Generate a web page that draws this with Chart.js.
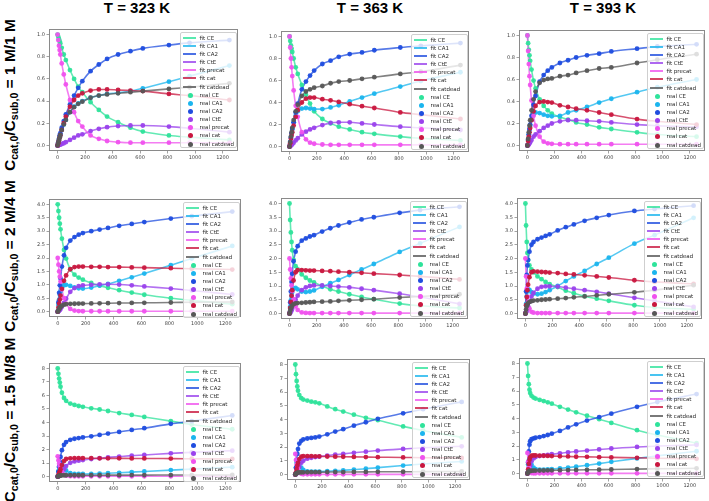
<!DOCTYPE html>
<html>
<head>
<meta charset="utf-8">
<script src="https://cdn.jsdelivr.net/npm/chart.js@4.4.0/dist/chart.umd.min.js"></script>
<style>
  html, body { margin: 0; padding: 0; background: #fff; }
  body { position: relative; width: 709px; height: 501px; overflow: hidden; font-family: "Liberation Sans", Arial, sans-serif; }
  .coltitle { position: absolute; top: 0; font-weight: bold; font-size: 15px; line-height: 16px; transform: translateX(-50%); white-space: nowrap; color: #000; }
  .rowlabel { position: absolute; font-weight: bold; font-size: 15.5px; line-height: 16px; white-space: nowrap; color: #000; transform: translate(-50%, -50%) rotate(-90deg); }
  .rowlabel sub { font-size: 0.68em; line-height: 0; vertical-align: -0.3em; }
  canvas { position: absolute; }
  .legend { position: absolute; box-sizing: border-box; background: rgba(255,255,255,0.8); border: 1px solid #cfcfcf; border-radius: 2px; font-family: "DejaVu Sans", sans-serif; font-size: 5.5px; color: #2a2a2a; }
  .lrow { position: absolute; left: 0; height: 8px; width: 100%; }
  .lline { position: absolute; left: 2px; width: 13px; height: 2px; top: 3px; }
  .ldot { position: absolute; left: 6.5px; width: 5px; height: 5px; border-radius: 50%; top: 1.5px; }
  .ltext { position: absolute; left: 18.5px; top: 0; line-height: 8px; white-space: nowrap; }
</style>
</head>
<body>
<script>
// ---------------- data ----------------
const times = [0, 5, 10, 15, 20, 30, 45, 60, 90, 120, 150, 180, 240, 300, 360, 440, 530, 620, 810, 960, 1250];
const temperatureTitles = ['T = 323 K', 'T = 363 K', 'T = 393 K'];
const ratioTexts = ['1 M/1 M', '2 M/4 M', '1.5 M/8 M'];
const speciesNames = ['CE', 'CA1', 'CA2', 'CtE', 'precat', 'cat', 'catdead'];
const xTicks = [0, 200, 400, 600, 800, 1000, 1200];
const yTicksRow1 = [0, 0.2, 0.4, 0.6, 0.8, 1.0];
const yTicksRow2 = [0, 0.5, 1.0, 1.5, 2.0, 2.5, 3.0, 3.5, 4.0];
const yTicksRow3 = [0, 1, 2, 3, 4, 5, 6, 7, 8];

// Row 1: Ccat,0/Csub,0 = 1 M/1 M
const r1_T323_CE      = [1.0, 0.98, 0.96, 0.94, 0.92, 0.88, 0.82, 0.77, 0.68, 0.60, 0.53, 0.48, 0.39, 0.32, 0.26, 0.21, 0.16, 0.125, 0.09, 0.075, 0.05];
const r1_T323_CA1     = [0, 0.025, 0.05, 0.075, 0.095, 0.14, 0.19, 0.23, 0.30, 0.35, 0.38, 0.40, 0.43, 0.45, 0.465, 0.475, 0.49, 0.515, 0.575, 0.625, 0.72];
const r1_T323_CA2     = [0, 0.03, 0.06, 0.09, 0.11, 0.16, 0.22, 0.28, 0.37, 0.45, 0.52, 0.58, 0.67, 0.73, 0.78, 0.82, 0.85, 0.875, 0.905, 0.925, 0.95];
const r1_T323_CtE     = [0, 0.002, 0.004, 0.006, 0.008, 0.013, 0.02, 0.03, 0.05, 0.07, 0.09, 0.10, 0.13, 0.15, 0.165, 0.175, 0.18, 0.18, 0.17, 0.155, 0.12];
const r1_T323_precat  = [1.0, 0.95, 0.90, 0.86, 0.82, 0.74, 0.64, 0.55, 0.41, 0.30, 0.22, 0.17, 0.09, 0.06, 0.04, 0.03, 0.025, 0.025, 0.025, 0.025, 0.025];
const r1_T323_cat     = [0, 0.02, 0.045, 0.07, 0.09, 0.14, 0.20, 0.26, 0.35, 0.41, 0.45, 0.47, 0.495, 0.505, 0.505, 0.50, 0.495, 0.49, 0.465, 0.45, 0.41];
const r1_T323_catdead = [0, 0.025, 0.05, 0.075, 0.095, 0.14, 0.19, 0.23, 0.30, 0.345, 0.375, 0.395, 0.43, 0.45, 0.46, 0.47, 0.48, 0.49, 0.51, 0.525, 0.56];

const r1_T363_CE      = [1.0, 0.96, 0.92, 0.89, 0.86, 0.80, 0.72, 0.66, 0.56, 0.47, 0.39, 0.32, 0.25, 0.21, 0.18, 0.155, 0.13, 0.115, 0.09, 0.075, 0.055];
const r1_T363_CA1     = [0, 0.04, 0.08, 0.12, 0.16, 0.22, 0.28, 0.32, 0.345, 0.35, 0.345, 0.34, 0.34, 0.355, 0.375, 0.41, 0.445, 0.48, 0.545, 0.595, 0.675];
const r1_T363_CA2     = [0, 0.04, 0.08, 0.12, 0.16, 0.22, 0.31, 0.39, 0.52, 0.59, 0.645, 0.69, 0.75, 0.78, 0.815, 0.84, 0.855, 0.875, 0.90, 0.915, 0.94];
const r1_T363_CtE     = [0, 0.003, 0.008, 0.015, 0.02, 0.035, 0.055, 0.075, 0.11, 0.135, 0.155, 0.17, 0.195, 0.215, 0.22, 0.22, 0.21, 0.20, 0.18, 0.17, 0.15];
const r1_T363_precat  = [1.0, 0.90, 0.80, 0.72, 0.64, 0.51, 0.37, 0.27, 0.13, 0.065, 0.035, 0.025, 0.018, 0.015, 0.015, 0.015, 0.015, 0.015, 0.015, 0.015, 0.015];
const r1_T363_cat     = [0, 0.03, 0.07, 0.10, 0.13, 0.19, 0.27, 0.33, 0.40, 0.435, 0.445, 0.445, 0.43, 0.42, 0.405, 0.385, 0.367, 0.35, 0.31, 0.29, 0.25];
const r1_T363_catdead = [0, 0.04, 0.09, 0.13, 0.17, 0.24, 0.32, 0.38, 0.46, 0.50, 0.52, 0.535, 0.55, 0.575, 0.59, 0.60, 0.615, 0.63, 0.66, 0.68, 0.74];

const r1_T393_CE      = [1.0, 0.93, 0.87, 0.82, 0.77, 0.69, 0.59, 0.52, 0.42, 0.36, 0.32, 0.29, 0.26, 0.235, 0.21, 0.19, 0.165, 0.15, 0.12, 0.10, 0.08];
const r1_T393_CA1     = [0, 0.05, 0.10, 0.14, 0.18, 0.23, 0.28, 0.30, 0.295, 0.28, 0.27, 0.265, 0.27, 0.30, 0.32, 0.35, 0.39, 0.425, 0.485, 0.53, 0.60];
const r1_T393_CA2     = [0, 0.05, 0.10, 0.15, 0.19, 0.27, 0.37, 0.45, 0.58, 0.64, 0.68, 0.71, 0.75, 0.775, 0.80, 0.82, 0.835, 0.855, 0.88, 0.90, 0.92];
const r1_T393_CtE     = [0, 0.003, 0.01, 0.02, 0.03, 0.05, 0.08, 0.10, 0.13, 0.16, 0.18, 0.20, 0.22, 0.23, 0.23, 0.225, 0.22, 0.21, 0.19, 0.18, 0.17];
const r1_T393_precat  = [1.0, 0.86, 0.74, 0.63, 0.55, 0.41, 0.27, 0.18, 0.08, 0.035, 0.02, 0.015, 0.012, 0.012, 0.012, 0.012, 0.012, 0.012, 0.012, 0.012, 0.012];
const r1_T393_cat     = [0, 0.04, 0.08, 0.12, 0.16, 0.23, 0.31, 0.36, 0.395, 0.40, 0.395, 0.39, 0.365, 0.35, 0.335, 0.32, 0.30, 0.28, 0.24, 0.22, 0.19];
const r1_T393_catdead = [0, 0.06, 0.12, 0.18, 0.23, 0.32, 0.42, 0.49, 0.57, 0.595, 0.605, 0.61, 0.63, 0.64, 0.66, 0.68, 0.70, 0.71, 0.75, 0.78, 0.83];

// Row 2: Ccat,0/Csub,0 = 2 M/4 M
const r2_T323_CE      = [4.0, 3.75, 3.5, 3.28, 3.07, 2.72, 2.3, 1.98, 1.58, 1.38, 1.27, 1.19, 1.07, 0.97, 0.89, 0.8, 0.71, 0.63, 0.5, 0.42, 0.28];
const r2_T323_CA1     = [0, 0.25, 0.45, 0.62, 0.75, 0.9, 0.98, 1.0, 0.96, 0.9, 0.87, 0.86, 0.9, 0.97, 1.03, 1.15, 1.28, 1.42, 1.73, 1.98, 2.45];
const r2_T323_CA2     = [0, 0.35, 0.7, 0.98, 1.24, 1.68, 2.1, 2.38, 2.65, 2.78, 2.87, 2.93, 3.0, 3.06, 3.12, 3.2, 3.27, 3.34, 3.47, 3.56, 3.73];
const r2_T323_CtE     = [0, 0.01, 0.03, 0.06, 0.1, 0.18, 0.33, 0.48, 0.74, 0.88, 0.95, 0.98, 1.0, 1.02, 1.02, 1.01, 0.98, 0.94, 0.86, 0.79, 0.64];
const r2_T323_precat  = [2.0, 1.75, 1.5, 1.3, 1.12, 0.83, 0.5, 0.3, 0.1, 0.04, 0.02, 0.015, 0.015, 0.015, 0.015, 0.015, 0.015, 0.015, 0.015, 0.015, 0.015];
const r2_T323_cat     = [0, 0.15, 0.3, 0.45, 0.6, 0.85, 1.15, 1.35, 1.58, 1.66, 1.68, 1.68, 1.67, 1.67, 1.66, 1.66, 1.65, 1.64, 1.62, 1.6, 1.57];
const r2_T323_catdead = [0, 0.05, 0.1, 0.14, 0.17, 0.22, 0.26, 0.28, 0.29, 0.295, 0.3, 0.3, 0.305, 0.31, 0.315, 0.32, 0.325, 0.33, 0.34, 0.35, 0.36];

const r2_T363_CE      = [4.0, 3.4, 2.95, 2.6, 2.3, 1.95, 1.72, 1.6, 1.42, 1.3, 1.2, 1.13, 1.0, 0.88, 0.8, 0.7, 0.6, 0.52, 0.36, 0.28, 0.2];
const r2_T363_CA1     = [0, 0.25, 0.48, 0.65, 0.78, 0.9, 0.93, 0.88, 0.8, 0.78, 0.8, 0.84, 0.97, 1.1, 1.22, 1.4, 1.6, 1.8, 2.24, 2.55, 3.15];
const r2_T363_CA2     = [0, 0.4, 0.8, 1.15, 1.45, 1.9, 2.25, 2.45, 2.65, 2.73, 2.8, 2.85, 2.98, 3.1, 3.2, 3.31, 3.42, 3.5, 3.66, 3.76, 3.88];
const r2_T363_CtE     = [0, 0.02, 0.06, 0.11, 0.17, 0.3, 0.5, 0.65, 0.85, 0.95, 1.0, 1.02, 1.02, 1.0, 0.98, 0.95, 0.9, 0.85, 0.72, 0.6, 0.35];
const r2_T363_precat  = [2.0, 1.6, 1.28, 1.02, 0.82, 0.52, 0.26, 0.13, 0.04, 0.02, 0.015, 0.015, 0.015, 0.015, 0.015, 0.015, 0.015, 0.015, 0.015, 0.015, 0.015];
const r2_T363_cat     = [0, 0.2, 0.42, 0.65, 0.85, 1.2, 1.5, 1.58, 1.58, 1.57, 1.56, 1.56, 1.55, 1.54, 1.52, 1.5, 1.48, 1.45, 1.4, 1.35, 1.24];
const r2_T363_catdead = [0, 0.1, 0.18, 0.24, 0.29, 0.34, 0.37, 0.38, 0.39, 0.4, 0.41, 0.42, 0.43, 0.44, 0.46, 0.48, 0.5, 0.52, 0.58, 0.62, 0.7];

const r2_T393_CE      = [4.0, 3.2, 2.6, 2.2, 1.95, 1.75, 1.6, 1.5, 1.35, 1.25, 1.15, 1.07, 0.96, 0.83, 0.74, 0.63, 0.54, 0.46, 0.3, 0.22, 0.15];
const r2_T393_CA1     = [0, 0.35, 0.62, 0.8, 0.88, 0.86, 0.78, 0.72, 0.7, 0.72, 0.78, 0.85, 1.0, 1.18, 1.35, 1.55, 1.8, 2.03, 2.54, 2.85, 3.48];
const r2_T393_CA2     = [0, 0.8, 1.4, 1.75, 1.95, 2.25, 2.5, 2.6, 2.7, 2.76, 2.82, 2.88, 3.02, 3.14, 3.24, 3.37, 3.48, 3.58, 3.73, 3.8, 3.92];
const r2_T393_CtE     = [0, 0.04, 0.1, 0.18, 0.26, 0.42, 0.62, 0.75, 0.9, 0.97, 0.99, 0.99, 0.98, 0.94, 0.9, 0.85, 0.79, 0.72, 0.57, 0.46, 0.24];
const r2_T393_precat  = [2.0, 1.35, 0.9, 0.6, 0.4, 0.18, 0.06, 0.03, 0.015, 0.015, 0.015, 0.015, 0.015, 0.015, 0.015, 0.015, 0.015, 0.015, 0.015, 0.015, 0.015];
const r2_T393_cat     = [0, 0.3, 0.6, 0.85, 1.05, 1.32, 1.5, 1.53, 1.52, 1.51, 1.5, 1.49, 1.47, 1.44, 1.42, 1.39, 1.35, 1.31, 1.21, 1.15, 1.08];
const r2_T393_catdead = [0, 0.15, 0.26, 0.33, 0.38, 0.42, 0.45, 0.47, 0.48, 0.5, 0.51, 0.52, 0.54, 0.56, 0.59, 0.62, 0.66, 0.7, 0.77, 0.85, 1.03];

// Row 3: Ccat,0/Csub,0 = 1.5 M/8 M
const r3_T323_CE      = [8.0, 7.6, 7.25, 6.95, 6.65, 6.2, 5.82, 5.6, 5.4, 5.3, 5.22, 5.16, 5.05, 4.96, 4.85, 4.7, 4.56, 4.41, 4.1, 3.85, 3.5];
const r3_T323_CA1     = [0, 0.4, 0.7, 0.9, 1.0, 0.95, 0.7, 0.45, 0.25, 0.2, 0.19, 0.19, 0.2, 0.22, 0.25, 0.28, 0.33, 0.38, 0.48, 0.55, 0.7];
const r3_T323_CA2     = [0, 0.35, 0.75, 1.1, 1.45, 1.95, 2.35, 2.55, 2.72, 2.8, 2.85, 2.9, 2.98, 3.08, 3.18, 3.3, 3.45, 3.58, 3.9, 4.1, 4.52];
const r3_T323_CtE     = [0, 0.01, 0.04, 0.08, 0.14, 0.28, 0.55, 0.78, 1.02, 1.12, 1.18, 1.22, 1.3, 1.36, 1.42, 1.48, 1.55, 1.6, 1.72, 1.79, 1.92];
const r3_T323_precat  = [1.5, 1.2, 0.95, 0.75, 0.58, 0.35, 0.15, 0.07, 0.03, 0.02, 0.02, 0.02, 0.02, 0.02, 0.02, 0.02, 0.02, 0.02, 0.02, 0.02, 0.02];
const r3_T323_cat     = [0, 0.1, 0.25, 0.4, 0.55, 0.85, 1.15, 1.3, 1.35, 1.36, 1.36, 1.36, 1.36, 1.35, 1.35, 1.35, 1.34, 1.34, 1.33, 1.32, 1.3];
const r3_T323_catdead = [0, 0.03, 0.05, 0.07, 0.08, 0.09, 0.1, 0.1, 0.1, 0.1, 0.1, 0.1, 0.1, 0.1, 0.105, 0.105, 0.11, 0.11, 0.115, 0.115, 0.12];

const r3_T363_CE      = [8.0, 7.3, 6.8, 6.4, 6.1, 5.78, 5.55, 5.45, 5.38, 5.3, 5.25, 5.18, 4.95, 4.75, 4.58, 4.35, 4.12, 3.95, 3.5, 3.2, 2.7];
const r3_T363_CA1     = [0, 0.5, 0.85, 1.0, 0.98, 0.8, 0.5, 0.33, 0.22, 0.2, 0.2, 0.21, 0.24, 0.27, 0.3, 0.36, 0.42, 0.5, 0.65, 0.76, 0.95];
const r3_T363_CA2     = [0, 0.5, 1.05, 1.5, 1.85, 2.25, 2.45, 2.55, 2.62, 2.66, 2.7, 2.76, 2.92, 3.12, 3.3, 3.55, 3.8, 4.05, 4.45, 4.75, 5.28];
const r3_T363_CtE     = [0, 0.02, 0.08, 0.18, 0.3, 0.55, 0.85, 1.0, 1.15, 1.22, 1.27, 1.3, 1.38, 1.45, 1.5, 1.58, 1.66, 1.74, 1.86, 1.94, 2.05];
const r3_T363_precat  = [1.5, 1.05, 0.72, 0.5, 0.35, 0.16, 0.05, 0.02, 0.01, 0.01, 0.01, 0.01, 0.01, 0.01, 0.01, 0.01, 0.01, 0.01, 0.01, 0.01, 0.01];
const r3_T363_cat     = [0, 0.15, 0.4, 0.65, 0.85, 1.12, 1.3, 1.33, 1.33, 1.33, 1.32, 1.32, 1.31, 1.3, 1.29, 1.28, 1.27, 1.26, 1.24, 1.22, 1.2];
const r3_T363_catdead = [0, 0.06, 0.1, 0.12, 0.14, 0.15, 0.16, 0.16, 0.165, 0.17, 0.17, 0.17, 0.175, 0.18, 0.18, 0.185, 0.19, 0.195, 0.2, 0.21, 0.22];

const r3_T393_CE      = [8.0, 7.1, 6.5, 6.1, 5.85, 5.65, 5.52, 5.45, 5.35, 5.27, 5.18, 5.08, 4.85, 4.65, 4.45, 4.2, 3.95, 3.68, 3.15, 2.8, 2.2];
const r3_T393_CA1     = [0, 0.65, 0.95, 1.0, 0.9, 0.65, 0.42, 0.32, 0.28, 0.28, 0.3, 0.32, 0.37, 0.43, 0.5, 0.6, 0.72, 0.85, 1.1, 1.28, 1.62];
const r3_T393_CA2     = [0, 0.8, 1.6, 2.1, 2.35, 2.5, 2.55, 2.6, 2.65, 2.72, 2.8, 2.9, 3.1, 3.35, 3.58, 3.85, 4.1, 4.35, 4.85, 5.2, 5.78];
const r3_T393_CtE     = [0, 0.05, 0.18, 0.4, 0.6, 0.9, 1.1, 1.2, 1.27, 1.32, 1.36, 1.4, 1.47, 1.54, 1.6, 1.67, 1.75, 1.82, 1.93, 2.0, 2.08];
const r3_T393_precat  = [1.5, 0.85, 0.45, 0.22, 0.1, 0.03, 0.01, 0.01, 0.01, 0.01, 0.01, 0.01, 0.01, 0.01, 0.01, 0.01, 0.01, 0.01, 0.01, 0.01, 0.01];
const r3_T393_cat     = [0, 0.3, 0.7, 1.0, 1.18, 1.3, 1.32, 1.31, 1.3, 1.29, 1.28, 1.27, 1.25, 1.24, 1.22, 1.21, 1.19, 1.17, 1.14, 1.11, 1.07];
const r3_T393_catdead = [0, 0.1, 0.15, 0.18, 0.19, 0.2, 0.21, 0.21, 0.22, 0.22, 0.23, 0.23, 0.24, 0.25, 0.26, 0.27, 0.28, 0.29, 0.32, 0.34, 0.38];

// ---------------- tables built from the arrays ----------------
const panelSeries = [
  [
    [r1_T323_CE, r1_T323_CA1, r1_T323_CA2, r1_T323_CtE, r1_T323_precat, r1_T323_cat, r1_T323_catdead],
    [r1_T363_CE, r1_T363_CA1, r1_T363_CA2, r1_T363_CtE, r1_T363_precat, r1_T363_cat, r1_T363_catdead],
    [r1_T393_CE, r1_T393_CA1, r1_T393_CA2, r1_T393_CtE, r1_T393_precat, r1_T393_cat, r1_T393_catdead]
  ],
  [
    [r2_T323_CE, r2_T323_CA1, r2_T323_CA2, r2_T323_CtE, r2_T323_precat, r2_T323_cat, r2_T323_catdead],
    [r2_T363_CE, r2_T363_CA1, r2_T363_CA2, r2_T363_CtE, r2_T363_precat, r2_T363_cat, r2_T363_catdead],
    [r2_T393_CE, r2_T393_CA1, r2_T393_CA2, r2_T393_CtE, r2_T393_precat, r2_T393_cat, r2_T393_catdead]
  ],
  [
    [r3_T323_CE, r3_T323_CA1, r3_T323_CA2, r3_T323_CtE, r3_T323_precat, r3_T323_cat, r3_T323_catdead],
    [r3_T363_CE, r3_T363_CA1, r3_T363_CA2, r3_T363_CtE, r3_T363_precat, r3_T363_cat, r3_T363_catdead],
    [r3_T393_CE, r3_T393_CA1, r3_T393_CA2, r3_T393_CtE, r3_T393_precat, r3_T393_cat, r3_T393_catdead]
  ]
];
const rowYTicks = [yTicksRow1, yTicksRow2, yTicksRow3];
const rowYDecimals = [1, 1, 0];

// ---------------- layout & style ----------------
const palette = ['#2fe39b', '#1bb5ee', '#1f4ddf', '#9a42ec', '#f052ee', '#c9173f', '#575757'];
const plotBoxes = [
  [[49, 29, 238, 151], [281, 31, 469, 152], [519, 30, 705, 151]],
  [[49, 199, 241, 317], [281, 198, 468, 319], [517, 198, 702, 319]],
  [[49, 363, 241, 482], [287, 359, 470, 480], [519, 358, 705, 479]]
];
const titleCentersX = [137, 370, 603];
const rowLabelCenters = [[9.5, 95], [9.5, 256], [9.5, 420]];
const Y_AXIS_W = 26, PAD_TOP = 6, PAD_RIGHT = 8, X_AXIS_H = 15;

function rgba(hex, a) {
  const n = parseInt(hex.slice(1), 16);
  return 'rgba(' + ((n >> 16) & 255) + ',' + ((n >> 8) & 255) + ',' + (n & 255) + ',' + a + ')';
}

const framePlugin = {
  id: 'frame',
  afterDraw(chart) {
    const a = chart.chartArea, ctx = chart.ctx;
    ctx.save();
    ctx.strokeStyle = '#8a8a8a';
    ctx.lineWidth = 1;
    ctx.strokeRect(Math.round(a.left) + 0.5, Math.round(a.top) + 0.5, Math.round(a.right - a.left) - 1, Math.round(a.bottom - a.top) - 1);
    ctx.restore();
  }
};

// titles
temperatureTitles.forEach((t, c) => {
  const d = document.createElement('div');
  d.className = 'coltitle';
  d.style.left = titleCentersX[c] + 'px';
  d.textContent = t;
  document.body.appendChild(d);
});
// row labels
ratioTexts.forEach((r, i) => {
  const d = document.createElement('div');
  d.className = 'rowlabel';
  d.style.left = rowLabelCenters[i][0] + 'px';
  d.style.top = rowLabelCenters[i][1] + 'px';
  d.innerHTML = 'C<sub>cat,0</sub>/C<sub>sub,0</sub> = ' + r;
  document.body.appendChild(d);
});

function makeLegend(box) {
  const [L, T, R, B] = box;
  const lg = document.createElement('div');
  lg.className = 'legend';
  const w = 57, h = 116;
  lg.style.left = Math.round(R - 1.5 - w) + 'px';
  lg.style.top = Math.round(T + 2.5) + 'px';
  lg.style.width = w + 'px';
  lg.style.height = h + 'px';
  const entries = [];
  speciesNames.forEach((s, i) => entries.push({ kind: 'line', text: 'fit ' + s, color: palette[i] }));
  speciesNames.forEach((s, i) => entries.push({ kind: 'dot', text: 'real ' + s, color: palette[i] }));
  entries.forEach((e, k) => {
    const row = document.createElement('div');
    row.className = 'lrow';
    row.style.top = Math.round(0.6 + k * 8.15) + 'px';
    const sw = document.createElement('div');
    sw.className = e.kind === 'line' ? 'lline' : 'ldot';
    sw.style.background = e.kind === 'line' ? rgba(e.color, 0.8) : e.color;
    const tx = document.createElement('span');
    tx.className = 'ltext';
    tx.textContent = e.text;
    row.appendChild(sw);
    row.appendChild(tx);
    lg.appendChild(row);
  });
  document.body.appendChild(lg);
}

for (let r = 0; r < 3; r++) {
  for (let c = 0; c < 3; c++) {
    const [L, T, R, B] = plotBoxes[r][c];
    const cv = document.createElement('canvas');
    const cw = R - L + Y_AXIS_W + PAD_RIGHT, ch = B - T + PAD_TOP + X_AXIS_H;
    cv.width = cw; cv.height = ch;
    cv.style.left = (L - Y_AXIS_W) + 'px';
    cv.style.top = (T - PAD_TOP) + 'px';
    cv.style.width = cw + 'px';
    cv.style.height = ch + 'px';
    document.body.appendChild(cv);

    const series = panelSeries[r][c];
    const yt = rowYTicks[r];
    const yMax = yt[yt.length - 1];
    const yPad = yMax * 0.05;
    const datasets = [];
    speciesNames.forEach((s, i) => {
      datasets.push({
        label: 'fit ' + s,
        data: times.map((t, k) => ({ x: t, y: series[i][k] })),
        showLine: true,
        borderColor: rgba(palette[i], 0.75),
        borderWidth: 1.6,
        pointRadius: 0,
        cubicInterpolationMode: 'monotone',
        order: 100 - i
      });
    });
    speciesNames.forEach((s, i) => {
      datasets.push({
        label: 'real ' + s,
        data: times.map((t, k) => ({ x: t, y: series[i][k] })),
        showLine: false,
        pointRadius: 2.4,
        pointBackgroundColor: rgba(palette[i], 0.95),
        pointBorderWidth: 0,
        pointBorderColor: 'rgba(0,0,0,0)',
        order: 50 - i
      });
    });

    new Chart(cv, {
      type: 'scatter',
      data: { datasets },
      plugins: [framePlugin],
      options: {
        responsive: false,
        animation: false,
        devicePixelRatio: 1,
        layout: { padding: { top: PAD_TOP, right: PAD_RIGHT, left: 0, bottom: 0 } },
        plugins: { legend: { display: false }, tooltip: { enabled: false } },
        scales: {
          x: {
            type: 'linear',
            min: -62.5, max: 1312.5,
            afterBuildTicks: (ax) => { ax.ticks = xTicks.map(v => ({ value: v })); },
            afterFit: (ax) => { ax.height = X_AXIS_H; },
            grid: { drawOnChartArea: false, drawTicks: true, tickLength: 2.5, color: '#8a8a8a', tickWidth: 0.8 },
            border: { display: false },
            ticks: { font: { family: 'DejaVu Sans', size: 5 }, color: '#444', padding: 1, maxRotation: 0, autoSkip: false,
                     callback: (v) => String(v) }
          },
          y: {
            type: 'linear',
            min: -yPad, max: yMax + yPad,
            afterBuildTicks: (ax) => { ax.ticks = yt.map(v => ({ value: v })); },
            afterFit: (ax) => { ax.width = Y_AXIS_W; },
            grid: { drawOnChartArea: false, drawTicks: true, tickLength: 2.5, color: '#8a8a8a', tickWidth: 0.8 },
            border: { display: false },
            ticks: { font: { family: 'DejaVu Sans', size: 5 }, color: '#444', padding: 1.5, autoSkip: false,
                     callback: (v) => Number(v).toFixed(rowYDecimals[r]) }
          }
        }
      }
    });
    makeLegend(plotBoxes[r][c]);
  }
}
</script>
</body>
</html>
